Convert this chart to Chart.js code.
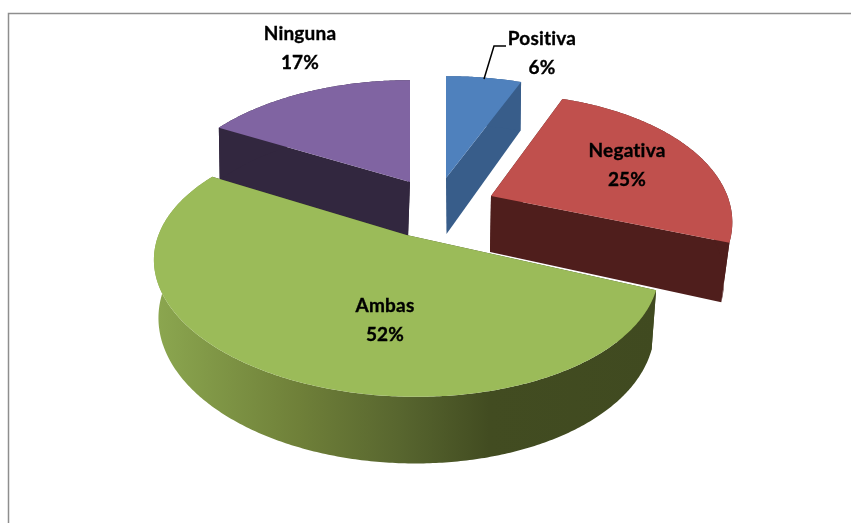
<!DOCTYPE html>
<html>
<head>
<meta charset="utf-8">
<style>html,body{margin:0;padding:0;background:#fff}canvas{display:block}</style>
<script src="https://cdn.jsdelivr.net/npm/chart.js@4"></script>
</head>
<body>
<canvas id="c" width="851" height="523"></canvas>
<script>
const categories = ['Positiva', 'Negativa', 'Ambas', 'Ninguna'];
const percentages = [6, 25, 52, 17];
const topColors = ['#4f81bd', '#c0504d', '#9bbb59', '#8064a2'];
const sideColors = ['#385d8a', '#4f1e1c', '#414b21', '#32273f'];

// layout of the exploded slices on screen (apex, horizontal and vertical radius, tilt, wall taper and shift)
const sliceViews = [
  {x: 446, y: 178, a: 247, b: 125, tilt: 0, taper: 0.985, shift: 0.5},
  {x: 491, y: 196, a: 235, b: 125, tilt: -0.015, taper: 0.97, shift: -1},
  {x: 406.5, y: 235, a: 246, b: 125, tilt: 0.02, taper: 0.982, shift: 0},
  {x: 410, y: 182, a: 242, b: 125, tilt: 0, taper: 0.985, shift: -2}
];
const paintOrder = [3, 0, 1, 2];
const labelSpots = [[542, 39], [627, 151], [385, 306], [300, 34]];
const perspective = 0.227, wallDepth = 56;

function project(view, angle, r, low) {
  const u = r * Math.cos(angle), v = r * Math.sin(angle), w = 1 - perspective * v;
  let x = view.a * u / w, y = view.b * v / w;
  y += view.tilt * x;
  if (low) {
    x = x * view.taper + view.shift;
    y += wallDepth / (1 - 0.16 * v);
  }
  return [view.x + x, view.y + y];
}
function fillPoly(ctx, pts, fill) {
  ctx.beginPath();
  pts.forEach((p, i) => i ? ctx.lineTo(p[0], p[1]) : ctx.moveTo(p[0], p[1]));
  ctx.closePath();
  ctx.fillStyle = fill;
  ctx.fill();
}
function arcAngles(arc) {
  const list = [], n = Math.ceil((arc.endAngle - arc.startAngle) / 0.01);
  for (let i = 0; i <= n; i++) list.push(arc.startAngle + (arc.endAngle - arc.startAngle) * i / n);
  return list;
}

const pie3d = {
  id: 'pie3d',
  beforeDraw(chart) {
    const ctx = chart.ctx;
    ctx.save();
    ctx.fillStyle = '#fff';
    ctx.fillRect(0, 0, chart.width, chart.height);
    ctx.strokeStyle = '#8e8e8e';
    ctx.lineWidth = 1.5;
    ctx.beginPath();
    ctx.moveTo(8.5, chart.height);
    ctx.lineTo(8.5, 13.5);
    ctx.lineTo(chart.width, 13.5);
    ctx.stroke();
    ctx.restore();
  },
  beforeDatasetDraw(chart) {
    const ctx = chart.ctx, arcs = chart.getDatasetMeta(0).data;
    ctx.save();
    paintOrder.forEach(i => {
      const arc = arcs[i], view = sliceViews[i], angles = arcAngles(arc);
      const side = sideColors[i];
      [arc.startAngle, arc.endAngle].forEach(a => {
        fillPoly(ctx, [project(view, a, 0, false), project(view, a, 1, false),
                       project(view, a, 1, true), project(view, a, 0, true)], side);
      });
      let wall = side;
      if (categories[i] === 'Ambas') {
        wall = ctx.createLinearGradient(158, 0, 660, 0);
        wall.addColorStop(0, '#8ba64f');
        wall.addColorStop(0.28, '#6f8039');
        wall.addColorStop(0.48, '#58662f');
        wall.addColorStop(0.66, '#424c21');
        wall.addColorStop(1, '#404a20');
      }
      const rim = angles.map(a => project(view, a, 1, false));
      const base = angles.map(a => project(view, a, 1, true)).reverse();
      fillPoly(ctx, rim.concat(base), wall);
      fillPoly(ctx, [project(view, 0, 0, false)].concat(rim), topColors[i]);
    });
    ctx.restore();
    return false;
  },
  afterDatasetsDraw(chart) {
    const ctx = chart.ctx;
    ctx.save();
    ctx.strokeStyle = '#000';
    ctx.lineWidth = 1.5;
    ctx.beginPath();
    ctx.moveTo(484, 79);
    ctx.lineTo(494, 46);
    ctx.lineTo(506, 46);
    ctx.stroke();
    ctx.fillStyle = '#000';
    ctx.font = 'bold 19px Lato, Carlito, sans-serif';
    ctx.letterSpacing = '0.2px';
    ctx.textAlign = 'center';
    ctx.textBaseline = 'middle';
    ctx.lineWidth = 0.35;
    categories.forEach((name, i) => {
      const [x, y] = labelSpots[i];
      [[name, y], [percentages[i] + '%', y + 29]].forEach(([t, ty]) => {
        ctx.fillText(t, x, ty);
        ctx.strokeText(t, x, ty);
      });
    });
    ctx.restore();
  }
};

new Chart(document.getElementById('c'), {
  type: 'pie',
  data: {
    labels: categories,
    datasets: [{data: percentages, backgroundColor: topColors, borderWidth: 0}]
  },
  options: {
    responsive: false,
    animation: false,
    plugins: {legend: {display: false}, tooltip: {enabled: false}, title: {display: false}}
  },
  plugins: [pie3d]
});
</script>
</body>
</html>
